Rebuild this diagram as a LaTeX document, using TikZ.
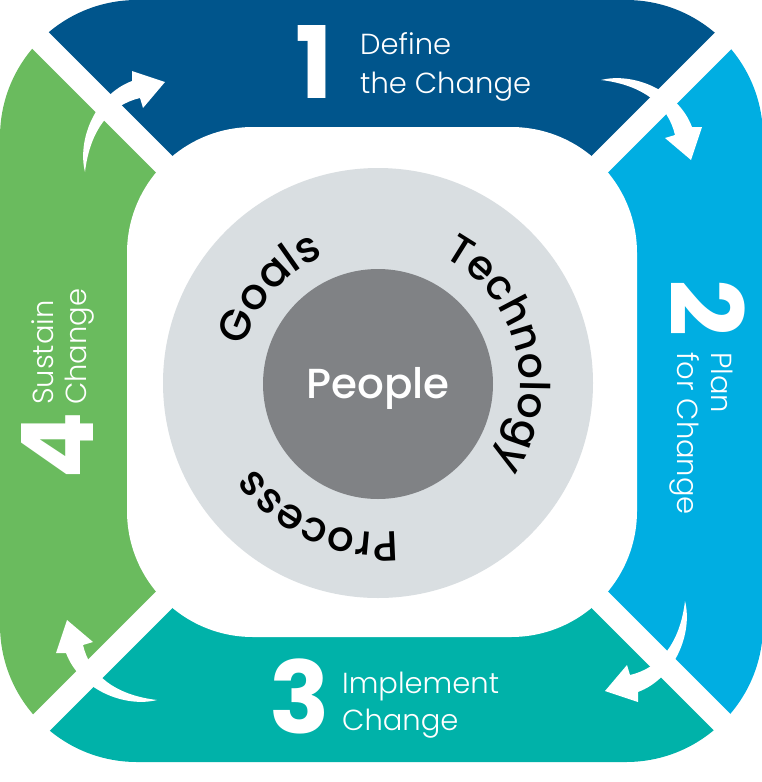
\documentclass[tikz,border=0pt]{standalone}
\usepackage{fontspec}
\setmainfont{Poppins}[UprightFont={* Light}, BoldFont={* Bold}]
\newfontfamily\pmed{Poppins}[UprightFont={* Medium}]
\usetikzlibrary{decorations.text}
\definecolor{cblue}{HTML}{00558C}
\definecolor{ccyan}{HTML}{00AEE2}
\definecolor{cteal}{HTML}{00B2A9}
\definecolor{cgreen}{HTML}{6ABB5E}
\definecolor{clight}{HTML}{D9DEE1}
\definecolor{cdark}{HTML}{808285}
\newcommand\labfont{\fontsize{29}{29}\selectfont}
\newcommand\numfont{\fontsize{100}{100}\selectfont\bfseries}
\newcommand\curvefont[1]{\pmed\fontsize{#1}{#1}\selectfont}
\newcommand\cyclearrow[1]{\fill[white,#1] (85,172) .. controls (77,140) and (95,95) .. (132,81) -- (132,71) -- (165,82) -- (143,108) -- (140,98) .. controls (110,105) and (90,130) .. (85,172) -- cycle;}
\tikzset{
  lab/.style={text=white, inner sep=0pt, font=\labfont},
  num/.style={text=white, inner sep=0pt, font=\numfont},
  gap/.style={white, line width=23pt},
}
\begin{document}
\begin{tikzpicture}[x=1pt,y=-1pt]
\useasboundingbox (0,0) rectangle (762,782);
\fill[white] (0,0) rectangle (762,782);
\coordinate (c) at (382,382);
\coordinate (tl) at (-18,-18);
\coordinate (tr) at (782,-18);
\coordinate (br) at (782,782);
\coordinate (bl) at (-18,782);
\begin{scope}
  \clip[rounded corners=137pt] (0,0) rectangle (763,762);
  \fill[cblue] (c) -- (tl) -- (tr) -- cycle;
  \fill[ccyan] (c) -- (tr) -- (br) -- cycle;
  \fill[cteal] (c) -- (br) -- (bl) -- cycle;
  \fill[cgreen] (c) -- (bl) -- (tl) -- cycle;
\end{scope}
\draw[gap] (tl) -- (br);
\draw[gap] (tr) -- (bl);
\fill[white, rounded corners=126pt] (127,127) rectangle (637,637);
% arrows
\cyclearrow{}
\cyclearrow{shift={(11,-5)}, rotate around={-90:(381,381)}}
\cyclearrow{shift={(8,11)}, rotate around={180:(381,381)}}
\cyclearrow{shift={(-15,23)}, rotate around={90:(381,381)}}
% circles
\fill[clight] (378,383) circle[radius=215];
\node[circle, fill=cdark, minimum size=230pt, inner sep=0pt] (core) at (378,384) {};
\node[text=white, inner sep=0pt, font=\pmed\fontsize{42}{42}\selectfont, anchor=base] (people) at (378,398) {People};
% curved texts
\path[decorate, decoration={text along path, text align=center, text={|\curvefont{43}|Goals}}]
  (378,383) ++(-199:138) arc[start angle=-199, end angle=-79, radius=138];
\path[decorate, decoration={text along path, text align=center, text={|\curvefont{41}|Technology}}]
  (378,383) ++(-74:142) arc[start angle=-74, end angle=46, radius=142];
\path[decorate, decoration={text along path, text align=center, text={|\curvefont{42}|Process}}]
  (378,383) ++(54:149) arc[start angle=54, end angle=174, radius=149];
% labels
\node[num, anchor=base] (n1) at (314,98) {1};
\node[lab, anchor=base west] (l1a) at (360,54) {Define};
\node[lab, anchor=base west] (l1b) at (360,93) {the Change};
\node[num, anchor=base, rotate=-90] (n2) at (670,308) {2};
\node[lab, anchor=base west, rotate=-90] (l2a) at (711,352) {Plan};
\node[lab, anchor=base west, rotate=-90] (l2b) at (677,352) {for Change};
\node[num, anchor=base] (n3) at (300,733) {3};
\node[lab, anchor=base west] (l3a) at (342,693) {Implement};
\node[lab, anchor=base west] (l3b) at (342,730) {Change};
\node[num, anchor=base, rotate=90] (n4) at (93,446) {4};
\node[lab, anchor=base west, rotate=90] (l4a) at (53,405) {Sustain};
\node[lab, anchor=base west, rotate=90] (l4b) at (86,405) {Change};
\end{tikzpicture}
\end{document}
